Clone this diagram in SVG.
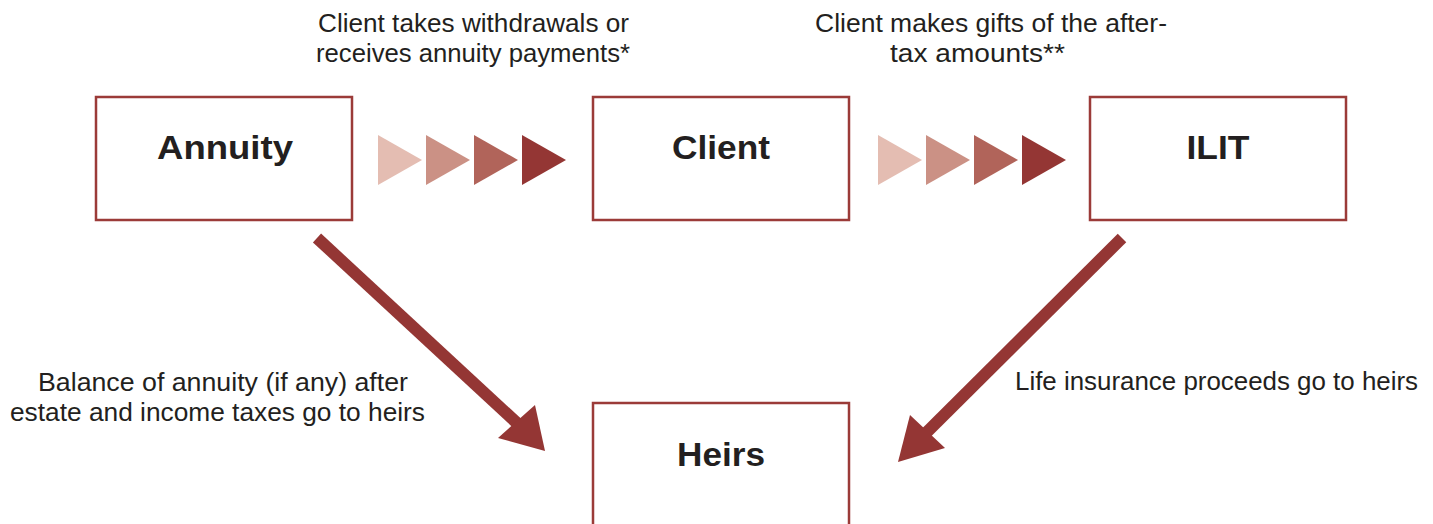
<svg xmlns="http://www.w3.org/2000/svg" width="1433" height="524" viewBox="0 0 1433 524">
<style>
.box{fill:#fff;stroke:#9b3b38;stroke-width:2.5}
.lbl{font-family:"Liberation Sans",Arial,sans-serif;font-weight:bold;font-size:34px;fill:#231f20;text-anchor:middle}
.txt{font-family:"Liberation Sans",Arial,sans-serif;font-size:25px;fill:#231f20}
.shaft{stroke:#943634;stroke-width:12;fill:none}
.head{fill:#943634}
.t1{fill:#e4bdb2}.t2{fill:#cb9185}.t3{fill:#b1645a}.t4{fill:#943634}
</style>
<rect width="1433" height="524" fill="#fff"/>
<g id="annuity"><rect class="box" x="96" y="97" width="256" height="123"/><text class="lbl" x="225" y="159" textLength="136" lengthAdjust="spacingAndGlyphs">Annuity</text></g>
<g id="client"><rect class="box" x="593" y="97" width="256" height="123"/><text class="lbl" x="721" y="159" textLength="98" lengthAdjust="spacingAndGlyphs">Client</text></g>
<g id="ilit"><rect class="box" x="1090" y="97" width="256" height="123"/><text class="lbl" x="1218" y="159" textLength="63" lengthAdjust="spacingAndGlyphs">ILIT</text></g>
<g id="heirs"><rect class="box" x="593" y="403" width="256" height="130"/><text class="lbl" x="721" y="466" textLength="88" lengthAdjust="spacingAndGlyphs">Heirs</text></g>
<g id="connectors">
<g id="chevrons1">
<polygon class="t1" points="378,135 422,160 378,185"/>
<polygon class="t2" points="426,135 470,160 426,185"/>
<polygon class="t3" points="474,135 518,160 474,185"/>
<polygon class="t4" points="522,135 566,160 522,185"/>
</g>
<g id="chevrons2">
<polygon class="t1" points="878,135 922,160 878,185"/>
<polygon class="t2" points="926,135 970,160 926,185"/>
<polygon class="t3" points="974,135 1018,160 974,185"/>
<polygon class="t4" points="1022,135 1066,160 1022,185"/>
</g>
<line class="shaft" x1="317" y1="238" x2="518" y2="424"/>
<polygon class="head" points="545,451 498,438 535,405"/>
<line class="shaft" x1="1122" y1="238" x2="926" y2="433"/>
<polygon class="head" points="898,462 910,415 945,448"/>
</g>
<g id="labels">
<text class="txt" x="318" y="32" textLength="311" lengthAdjust="spacingAndGlyphs">Client takes withdrawals or</text>
<text class="txt" x="316" y="62" textLength="314" lengthAdjust="spacingAndGlyphs">receives annuity payments*</text>
<text class="txt" x="815" y="32" textLength="352" lengthAdjust="spacingAndGlyphs">Client makes gifts of the after-</text>
<text class="txt" x="890" y="62" textLength="175" lengthAdjust="spacingAndGlyphs">tax amounts**</text>
<text class="txt" x="38" y="391" textLength="370" lengthAdjust="spacingAndGlyphs">Balance of annuity (if any) after</text>
<text class="txt" x="10" y="421" textLength="415" lengthAdjust="spacingAndGlyphs">estate and income taxes go to heirs</text>
<text class="txt" x="1015" y="390" textLength="403" lengthAdjust="spacingAndGlyphs">Life insurance proceeds go to heirs</text>
</g>
</svg>
